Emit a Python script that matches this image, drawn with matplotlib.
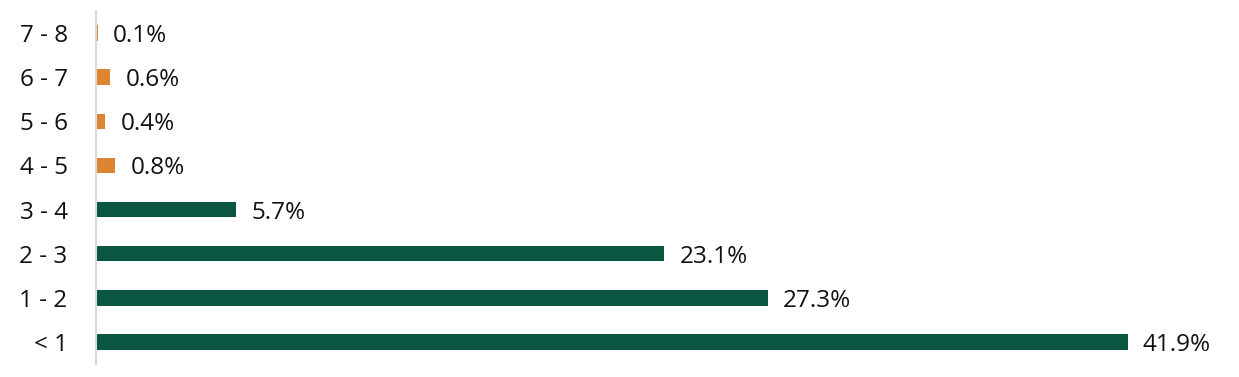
import matplotlib
matplotlib.use("Agg")
import matplotlib.pyplot as plt

categories = ["< 1", "1 - 2", "2 - 3", "3 - 4", "4 - 5", "5 - 6", "6 - 7", "7 - 8"]
values = [41.9, 27.3, 23.1, 5.7, 0.8, 0.4, 0.6, 0.1]
labels = ["41.9%", "27.3%", "23.1%", "5.7%", "0.8%", "0.4%", "0.6%", "0.1%"]
green = "#0B5640"
orange = "#DD8431"
colors = [green, green, green, green, orange, orange, orange, orange]

plt.rcParams['font.family'] = ['Open Sans', 'DejaVu Sans']

fig = plt.figure(figsize=(12.39, 3.77), dpi=100)
ax = fig.add_axes([95.5/1239, 13/377, 1133/1239, 353/377])
y = list(range(len(categories)))
bars = ax.barh(y, values, height=0.35, color=colors)
for b, lab in zip(bars, labels):
    ax.annotate(lab, (b.get_width(), b.get_y() + b.get_height()/2),
                xytext=(11, 0), textcoords="offset points",
                va="center_baseline", ha="left", fontsize=17.5, color="#111111")
ax.set_yticks(y)
ax.set_yticklabels(categories, fontsize=17.5, color="#111111", va="center_baseline")
ax.set_ylim(-0.5, 7.5)
ax.set_xlim(0, 46)
ax.set_xticks([])
ax.tick_params(axis="y", length=0, pad=20)
for s in ["top", "right", "bottom"]:
    ax.spines[s].set_visible(False)
ax.spines["left"].set_color("#D9D9D9")
ax.spines["left"].set_linewidth(1.5)
fig.savefig("out.png", dpi=100)
